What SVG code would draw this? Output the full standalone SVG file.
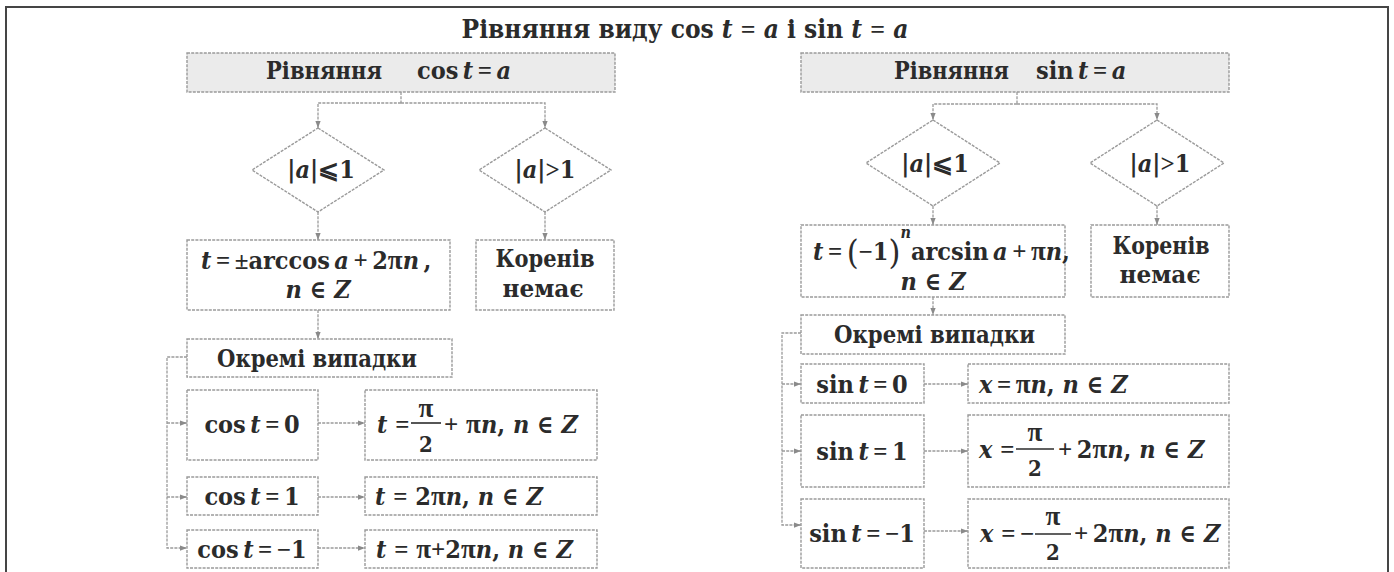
<svg xmlns="http://www.w3.org/2000/svg" width="1394" height="572" viewBox="0 0 1394 572">
<style>
.t{font-family:"DejaVu Serif Condensed","DejaVu Serif","Liberation Serif",serif;font-weight:bold;font-size:25px;fill:#2b2b2b}
.tt{font-size:26px}
.i{font-style:italic}
.o{font-family:"Liberation Serif","DejaVu Serif",serif}
.p{font-family:"Liberation Serif","DejaVu Serif",serif;font-size:27px}
.sm{font-size:22px}
.par{font-size:34px;font-weight:normal}
.sup{font-size:16px;font-style:italic}
.b{fill:#fff;stroke:#9a9a9a;stroke-width:1.4;stroke-dasharray:3 1.2}
.h{fill:#ebebeb;stroke:#9a9a9a;stroke-width:1.4;stroke-dasharray:3 1.2}
.c{fill:none;stroke:#9a9a9a;stroke-width:1.3;stroke-dasharray:3 1.2}
.a{marker-end:url(#ah)}
.fb{stroke:#2b2b2b;stroke-width:1.6}
</style>
<defs>
<marker id="ah" viewBox="0 0 8 8" refX="8" refY="4" markerWidth="7" markerHeight="7" markerUnits="userSpaceOnUse" orient="auto">
<path d="M0,1 L8,4 L0,7 z" fill="#8a8a8a"/>
</marker>
</defs>
<rect width="1394" height="572" fill="#fff"/>
<path d="M6,572 V7 H1388 V572" fill="none" stroke="#454545" stroke-width="2"/>

<text id="title" class="t tt" x="685" y="38" text-anchor="middle">Рівняння виду cos <tspan class="i">t</tspan> <tspan class="o">=</tspan> <tspan class="i">a</tspan> і sin <tspan class="i">t</tspan> <tspan class="o">=</tspan> <tspan class="i">a</tspan></text>

<g id="connectors">
<path class="c" d="M401,92 V103"/>
<path class="c a" d="M401,103 H318 V128"/>
<path class="c a" d="M401,103 H545 V128"/>
<path class="c a" d="M318,212 V240"/>
<path class="c a" d="M545,212 V240"/>
<path class="c a" d="M318,310 V339"/>
<path class="c a" d="M187,357 H167 V548 H187"/>
<path class="c a" d="M167,423 H187"/>
<path class="c a" d="M167,497 H187"/>
<path class="c a" d="M318,423 H365"/>
<path class="c a" d="M318,497 H365"/>
<path class="c a" d="M318,548 H365"/>
<path class="c" d="M1017,92 V104"/>
<path class="c a" d="M1017,104 H933 V120"/>
<path class="c a" d="M1017,104 H1157 V120"/>
<path class="c a" d="M933,206 V225"/>
<path class="c a" d="M1157,206 V225"/>
<path class="c a" d="M933,297 V315"/>
<path class="c a" d="M801,333 H782 V525 H801"/>
<path class="c a" d="M782,384 H801"/>
<path class="c a" d="M782,451 H801"/>
<path class="c a" d="M924,384 H968"/>
<path class="c a" d="M924,451 H968"/>
<path class="c a" d="M924,531 H968"/>
</g>

<!-- LEFT: cos -->
<g id="cos-header">
<rect class="h" x="187" y="53" width="428" height="39"/>
<text class="t" x="266" y="79" textLength="116" lengthAdjust="spacingAndGlyphs">Рівняння</text>
<text class="t" x="417" y="79">cos&#8201;<tspan class="i">t</tspan>&#8201;<tspan class="o">=</tspan>&#8201;<tspan class="i">a</tspan></text>
</g>
<g id="cos-cond1">
<polygon class="b" points="318,128 384,170 318,212 252,170"/>
<text class="t" x="321" y="178" text-anchor="middle">|<tspan class="i">a</tspan>|⩽1</text>
</g>
<g id="cos-cond2">
<polygon class="b" points="545,128 611,170 545,212 479,170"/>
<text class="t" x="545" y="178" text-anchor="middle">|<tspan class="i">a</tspan>|<tspan class="o">&gt;</tspan>1</text>
</g>
<g id="cos-solution">
<rect class="b" x="187" y="240" width="263" height="70"/>
<text class="t" x="201" y="269"><tspan class="i">t</tspan>&#8201;<tspan class="o">=</tspan>&#8201;<tspan class="o">±</tspan>arccos&#8201;<tspan class="i">a</tspan>&#8201;<tspan class="o">+</tspan>&#8201;2<tspan class="p">π</tspan><tspan class="i">n</tspan>&#8201;,</text>
<text class="t" x="318" y="298" text-anchor="middle"><tspan class="i">n</tspan> ∈ <tspan class="i">Z</tspan></text>
</g>
<g id="cos-noroots">
<rect class="b" x="476" y="240" width="138" height="70"/>
<text class="t" x="545" y="267" text-anchor="middle" textLength="99" lengthAdjust="spacingAndGlyphs">Коренів</text>
<text class="t" x="543" y="297" text-anchor="middle" textLength="81" lengthAdjust="spacingAndGlyphs">немає</text>
</g>
<g id="cos-special">
<rect class="b" x="187" y="339" width="265" height="38"/>
<text class="t" x="217" y="367" textLength="200" lengthAdjust="spacingAndGlyphs">Окремі випадки</text>
</g>
<g id="cos0">
<rect class="b" x="187" y="390" width="131" height="70"/>
<text class="t" x="252" y="433" text-anchor="middle">cos&#8201;<tspan class="i">t</tspan>&#8201;<tspan class="o">=</tspan>&#8201;0</text>
</g>
<g id="cos0-ans">
<rect class="b" x="365" y="390" width="232" height="70"/>
<text class="t" x="377" y="433"><tspan class="i">t</tspan> <tspan class="o">=</tspan></text>
<line class="fb" x1="411" y1="423" x2="441" y2="423"/>
<text class="t p" x="426" y="417" text-anchor="middle">π</text>
<text class="t sm" x="426" y="452" text-anchor="middle">2</text>
<text class="t" x="444" y="433"><tspan class="o">+</tspan> <tspan class="p">π</tspan><tspan class="i">n</tspan>, <tspan class="i">n</tspan> ∈ <tspan class="i">Z</tspan></text>
</g>
<g id="cos1">
<rect class="b" x="187" y="477" width="131" height="38"/>
<text class="t" x="252" y="505" text-anchor="middle">cos&#8201;<tspan class="i">t</tspan>&#8201;<tspan class="o">=</tspan>&#8201;1</text>
</g>
<g id="cos1-ans">
<rect class="b" x="365" y="477" width="232" height="38"/>
<text class="t" x="375" y="505"><tspan class="i">t</tspan> <tspan class="o">=</tspan> 2<tspan class="p">π</tspan><tspan class="i">n</tspan>, <tspan class="i">n</tspan> ∈ <tspan class="i">Z</tspan></text>
</g>
<g id="cosm1">
<rect class="b" x="187" y="530" width="131" height="38"/>
<text class="t" x="252" y="558" text-anchor="middle">cos&#8201;<tspan class="i">t</tspan>&#8201;<tspan class="o">=</tspan>&#8201;<tspan class="o">−</tspan>1</text>
</g>
<g id="cosm1-ans">
<rect class="b" x="365" y="530" width="232" height="38"/>
<text class="t" x="376" y="558"><tspan class="i">t</tspan> <tspan class="o">=</tspan> <tspan class="p">π</tspan><tspan class="o">+</tspan>2<tspan class="p">π</tspan><tspan class="i">n</tspan>, <tspan class="i">n</tspan> ∈ <tspan class="i">Z</tspan></text>
</g>

<!-- RIGHT: sin -->
<g id="sin-header">
<rect class="h" x="801" y="53" width="428" height="39"/>
<text class="t" x="894" y="79" textLength="115" lengthAdjust="spacingAndGlyphs">Рівняння</text>
<text class="t" x="1036" y="79">sin&#8201;<tspan class="i">t</tspan>&#8201;<tspan class="o">=</tspan>&#8201;<tspan class="i">a</tspan></text>
</g>
<g id="sin-cond1">
<polygon class="b" points="933,120 1000,163 933,206 866,163"/>
<text class="t" x="935" y="172" text-anchor="middle">|<tspan class="i">a</tspan>|⩽1</text>
</g>
<g id="sin-cond2">
<polygon class="b" points="1157,120 1224,163 1157,206 1090,163"/>
<text class="t" x="1160" y="172" text-anchor="middle">|<tspan class="i">a</tspan>|<tspan class="o">&gt;</tspan>1</text>
</g>
<g id="sin-solution">
<rect class="b" x="801" y="225" width="264" height="72"/>
<text class="t" x="813" y="260"><tspan class="i">t</tspan>&#8201;<tspan class="o">=</tspan>&#8201;<tspan class="par" dy="4">(</tspan><tspan class="o" dy="-4">−</tspan>1<tspan class="par" dy="4">)</tspan><tspan class="sup" dy="-26">n</tspan><tspan dy="22">arcsin</tspan>&#8201;<tspan class="i">a</tspan>&#8201;<tspan class="o">+</tspan>&#8201;<tspan class="p">π</tspan><tspan class="i">n</tspan>,</text>
<text class="t" x="933" y="290" text-anchor="middle"><tspan class="i">n</tspan> ∈ <tspan class="i">Z</tspan></text>
</g>
<g id="sin-noroots">
<rect class="b" x="1091" y="225" width="138" height="72"/>
<text class="t" x="1161" y="254" text-anchor="middle" textLength="97" lengthAdjust="spacingAndGlyphs">Коренів</text>
<text class="t" x="1160" y="283" text-anchor="middle" textLength="81" lengthAdjust="spacingAndGlyphs">немає</text>
</g>
<g id="sin-special">
<rect class="b" x="801" y="315" width="264" height="39"/>
<text class="t" x="834" y="343" textLength="201" lengthAdjust="spacingAndGlyphs">Окремі випадки</text>
</g>
<g id="sin0">
<rect class="b" x="801" y="364" width="123" height="39"/>
<text class="t" x="862" y="393" text-anchor="middle">sin&#8201;<tspan class="i">t</tspan>&#8201;<tspan class="o">=</tspan>&#8201;0</text>
</g>
<g id="sin0-ans">
<rect class="b" x="968" y="364" width="261" height="39"/>
<text class="t" x="979" y="393"><tspan class="i">x</tspan>&#8201;<tspan class="o">=</tspan>&#8201;<tspan class="p">π</tspan><tspan class="i">n</tspan>, <tspan class="i">n</tspan> ∈ <tspan class="i">Z</tspan></text>
</g>
<g id="sin1">
<rect class="b" x="801" y="415" width="123" height="72"/>
<text class="t" x="862" y="460" text-anchor="middle">sin&#8201;<tspan class="i">t</tspan>&#8201;<tspan class="o">=</tspan>&#8201;1</text>
</g>
<g id="sin1-ans">
<rect class="b" x="968" y="415" width="261" height="72"/>
<text class="t" x="979" y="458"><tspan class="i">x</tspan> <tspan class="o">=</tspan></text>
<line class="fb" x1="1016" y1="449" x2="1054" y2="449"/>
<text class="t p" x="1035" y="441" text-anchor="middle">π</text>
<text class="t sm" x="1035" y="476" text-anchor="middle">2</text>
<text class="t" x="1058" y="458"><tspan class="o">+</tspan>&#8201;2<tspan class="p">π</tspan><tspan class="i">n</tspan>, <tspan class="i">n</tspan> ∈ <tspan class="i">Z</tspan></text>
</g>
<g id="sinm1">
<rect class="b" x="801" y="499" width="123" height="69"/>
<text class="t" x="862" y="542" text-anchor="middle">sin&#8201;<tspan class="i">t</tspan>&#8201;<tspan class="o">=</tspan>&#8201;<tspan class="o">−</tspan>1</text>
</g>
<g id="sinm1-ans">
<rect class="b" x="968" y="499" width="261" height="69"/>
<text class="t" x="980" y="542"><tspan class="i">x</tspan> <tspan class="o">=</tspan>&#8201;<tspan class="o">−</tspan></text>
<line class="fb" x1="1035" y1="534" x2="1071" y2="534"/>
<text class="t p" x="1053" y="525" text-anchor="middle">π</text>
<text class="t sm" x="1053" y="560" text-anchor="middle">2</text>
<text class="t" x="1074" y="542"><tspan class="o">+</tspan>&#8201;2<tspan class="p">π</tspan><tspan class="i">n</tspan>, <tspan class="i">n</tspan> ∈ <tspan class="i">Z</tspan></text>
</g>
</svg>
